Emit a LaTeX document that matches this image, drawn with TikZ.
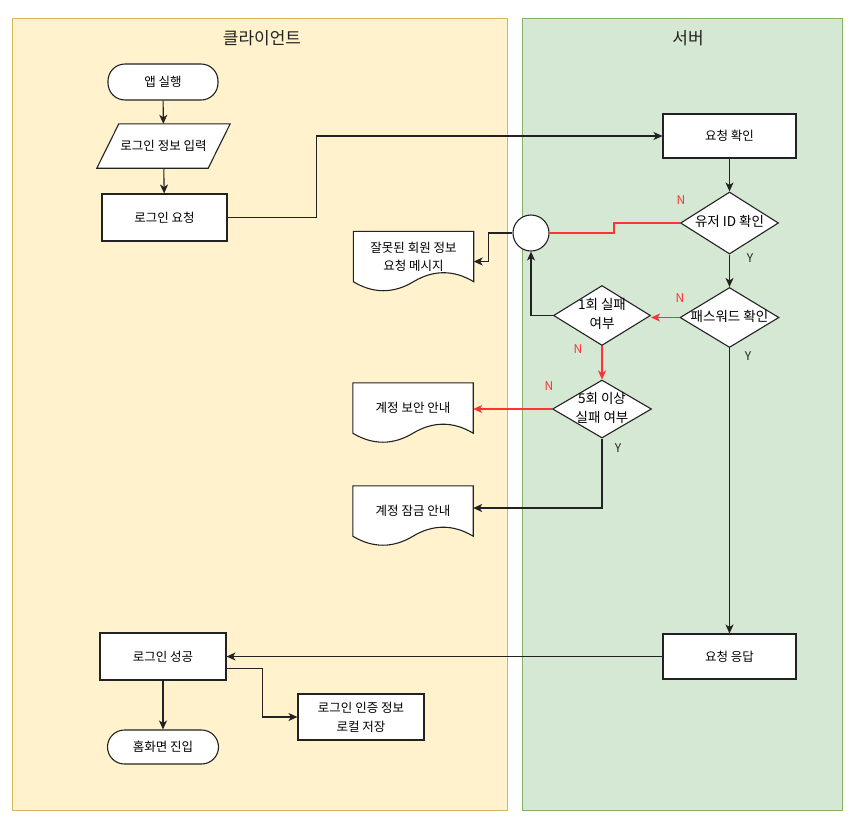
\documentclass[tikz,border=0pt]{standalone}
\usepackage{fontspec}
\setmainfont{Noto Sans CJK KR}
\usetikzlibrary{shapes.geometric,arrows.meta,calc}
\pgfdeclarelayer{panel}
\pgfdeclarelayer{shp}
\pgfsetlayers{panel,shp,main}
\definecolor{cliFill}{HTML}{FFF2CC}
\definecolor{cliLine}{HTML}{D6B656}
\definecolor{srvFill}{HTML}{D5E8D4}
\definecolor{srvLine}{HTML}{82B366}
\definecolor{redLine}{HTML}{FF3333}
\definecolor{ink}{HTML}{222222}
\newcommand\dtext[1]{\makebox[0pt]{\begin{tabular}{@{}c@{}}#1\end{tabular}}}
\newcommand\mydocshape[1]{%
  \begin{pgfonlayer}{shp}
  \draw[boxline,fill=white] (#1.north west) -- (#1.north east) -- (#1.south east)
    .. controls ($(#1.south east)+(-20,-12)$) and ($(#1.south)+(20,-12)$) .. (#1.south)
    .. controls ($(#1.south)+(-20,12)$) and ($(#1.south west)+(20,12)$) .. (#1.south west) -- cycle;
  \end{pgfonlayer}}
\begin{document}
\begin{tikzpicture}[x=1pt,y=-1pt,
  boxline/.style={draw=ink, line width=1.1pt},
  panelc/.style={rectangle, draw=cliLine, fill=cliFill, line width=1pt},
  panels/.style={rectangle, draw=srvLine, fill=srvFill, line width=1pt},
  title/.style={font=\fontsize{17}{20}\selectfont, text=ink},
  proc/.style={rectangle, boxline, fill=white, inner sep=2pt, align=center, font=\fontsize{12.5}{19}\selectfont},
  term/.style={rectangle, boxline, fill=white, rounded corners=17pt, font=\fontsize{12.5}{15}\selectfont},
  para/.style={rectangle, draw=none, minimum width=111, minimum height=44, font=\fontsize{12.5}{15}\selectfont},
  dec/.style={diamond, boxline, fill=white, inner sep=0pt, minimum width=98, minimum height=60, font=\fontsize{13.5}{19}\selectfont},
  docn/.style={rectangle, draw=none, minimum width=120, minimum height=50, align=center, font=\fontsize{12.5}{18}\selectfont},
  jnode/.style={circle, boxline, fill=white, minimum size=36, inner sep=0pt},
  arr/.style={draw=ink, line width=1.1pt, -{Stealth[length=9pt,width=8pt,inset=2.5pt]}},
  rline/.style={draw=redLine, line width=1.1pt},
  rarr/.style={rline, -{Stealth[length=9pt,width=8pt,inset=2.5pt]}},
  nlab/.style={text=redLine, font=\fontsize{12}{14}\selectfont},
  ylab/.style={text=ink, font=\fontsize{12}{14}\selectfont}
]
\useasboundingbox (0,0) rectangle (859,828);
\begin{pgfonlayer}{panel}
\node[panelc, minimum width=495, minimum height=792] (client) at (259.5,414) {};
\node[panels, minimum width=320, minimum height=792] (server) at (682,414) {};
\end{pgfonlayer}
\node[title] (tclient) at (262,38) {클라이언트};
\node[title] (tserver) at (688,38) {서버};

% client side
\node[term, minimum width=110, minimum height=36] (start) at (163,82) {앱 실행};
\node[para] (input) at (163.5,146) {로그인 정보 입력};
\begin{pgfonlayer}{shp}
\draw[boxline, fill=white] ($(input.north west)+(11,0)$) -- ($(input.north east)+(11,0)$) -- ($(input.south east)+(-11,0)$) -- ($(input.south west)+(-11,0)$) -- cycle;
\end{pgfonlayer}
\node[proc, minimum width=125, minimum height=47] (req) at (164.5,217.5) {로그인 요청};
\node[docn] (msg) at (413.5,256.5) {잘못된 회원 정보\\요청 메시지};
\mydocshape{msg}
\node[docn] (sec) at (413,408) {계정 보안 안내};
\mydocshape{sec}
\node[docn] (lock) at (413,511) {계정 잠금 안내};
\mydocshape{lock}
\node[proc, minimum width=126, minimum height=47] (succ) at (163,656.5) {로그인 성공};
\node[proc, minimum width=126, minimum height=46] (save) at (361,717) {로그인 인증 정보\\로컬 저장};
\node[term, minimum width=111, minimum height=34] (home) at (163,747) {홈화면 진입};

% server side
\node[proc, minimum width=133, minimum height=44] (chk) at (729.5,136) {요청 확인};
\node[dec, minimum height=62] (uid) at (729.5,223) {\dtext{유저 ID 확인}};
\node[dec, minimum width=99] (pw) at (729.5,317.5) {\dtext{패스워드 확인}};
\node[jnode] (jn) at (531,233) {};
\node[dec, minimum width=97] (f1) at (602,315.5) {\dtext{1회 실패\\여부}};
\node[dec, minimum width=99, minimum height=58] (f5) at (602,409) {\dtext{5회 이상\\실패 여부}};
\node[proc, minimum width=133, minimum height=45] (resp) at (729.5,656.5) {요청 응답};

% connectors
\draw[arr] (start) -- (input);
\draw[arr] (input) -- (req);
\draw[arr] (req.east) -- ++(89,0) |- (chk.west);
\draw[arr] (chk) -- (uid);
\draw[arr] (uid) -- (pw);
\draw[rline] (uid.west) -- ++(-66,0) |- (jn.east);
\draw[rarr] (pw.west) -- (pw.west -| f1.east);
\draw[arr] (f1.west) -| (jn.south);
\draw[arr] (jn.west) -- ++(-24,0) |- ([yshift=-5pt]msg.east);
\draw[rarr] (f1.south) -- (f5.north);
\draw[rarr] (f5.west) -- (f5.west -| sec.east);
\draw[arr] (f5.south) |- ([yshift=3pt]lock.east);
\draw[arr] (pw.south) -- (resp.north);
\draw[arr] (resp.west) -- (resp.west -| succ.east);
\draw[arr] ([yshift=-12pt]succ.east) -- ++(36,0) |- (save.west);
\draw[arr] (succ) -- (home);

% labels
\node[nlab] (n1) at (681,200) {N};
\node[ylab] (y1) at (750,258) {Y};
\node[nlab] (n2) at (680,298) {N};
\node[ylab] (y2) at (748,356) {Y};
\node[nlab] (n3) at (578,349) {N};
\node[nlab] (n4) at (549,386) {N};
\node[ylab] (y3) at (618,448) {Y};
\end{tikzpicture}
\end{document}
